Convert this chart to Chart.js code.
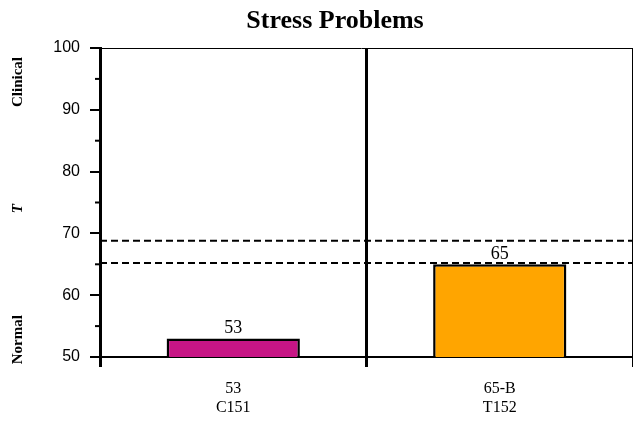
<!DOCTYPE html>
<html>
<head>
<meta charset="utf-8">
<script src="https://cdn.jsdelivr.net/npm/chart.js@4"></script>
<style>
  html, body { margin: 0; padding: 0; background: #fff; }
  #wrap { width: 633px; height: 422px; }
</style>
</head>
<body>
<div id="wrap"><canvas id="stress-chart"></canvas></div>
<script>
const chartTitle = "Stress Problems";
const categories = [["53", "C151"], ["65-B", "T152"]];
const scores = [53, 65];
const barColors = ["#C71585", "#FFA500"];
const valueLabels = ["53", "65"];
const cutoffLines = [68.8, 65.2];
const sideLabels = [
    { text: "Clinical", value: 94.5, italic: false },
    { text: "T", value: 74, italic: true },
    { text: "Normal", value: 52.8, italic: false }
];

const serif = "'Liberation Serif', 'Times New Roman', serif";

const extrasPlugin = {
    id: "extras",
    afterDatasetsDraw(chart) {
        const ctx = chart.ctx;
        const area = chart.chartArea;
        const y = chart.scales.y;
        const meta = chart.getDatasetMeta(0);
        ctx.save();

        // top border
        ctx.strokeStyle = "#000";
        ctx.lineWidth = 1;
        ctx.beginPath();
        ctx.moveTo(area.left - 10, area.top + 0.5);
        ctx.lineTo(area.right, area.top + 0.5);
        ctx.stroke();

        // minor ticks
        ctx.lineWidth = 2;
        for (let v = 55; v < 100; v += 10) {
            const py = y.getPixelForValue(v);
            ctx.beginPath();
            ctx.moveTo(area.left - 5, py);
            ctx.lineTo(area.left, py);
            ctx.stroke();
        }

        // dashed cutoff lines
        ctx.setLineDash([7, 4]);
        cutoffLines.forEach(v => {
            const py = y.getPixelForValue(v);
            ctx.beginPath();
            ctx.moveTo(area.left, py);
            ctx.lineTo(area.right, py);
            ctx.stroke();
        });
        ctx.setLineDash([]);

        // value labels above bars
        ctx.fillStyle = "#000";
        ctx.font = "18px " + serif;
        ctx.textAlign = "center";
        ctx.textBaseline = "bottom";
        meta.data.forEach((bar, i) => {
            ctx.fillText(valueLabels[i], bar.x, bar.y - 1);
        });

        // rotated side labels
        sideLabels.forEach(l => {
            const py = y.getPixelForValue(l.value);
            ctx.save();
            ctx.translate(18, py);
            ctx.rotate(-Math.PI / 2);
            ctx.font = (l.italic ? "italic " : "") + "bold 15px " + serif;
            ctx.textAlign = "center";
            ctx.textBaseline = "middle";
            ctx.fillText(l.text, 0, 0);
            ctx.restore();
        });

        // title
        ctx.font = "bold 26px " + serif;
        ctx.textAlign = "center";
        ctx.textBaseline = "middle";
        ctx.fillText(chartTitle, 335, 21);

        ctx.restore();
    }
};

new Chart(document.getElementById("stress-chart"), {
    type: "bar",
    data: {
        labels: categories,
        datasets: [{
            data: scores,
            backgroundColor: barColors,
            borderColor: "#000",
            borderWidth: 2.5,
            borderSkipped: false,
            barPercentage: 0.5,
            categoryPercentage: 1
        }]
    },
    options: {
        responsive: true,
        maintainAspectRatio: false,
        animation: false,
        layout: { padding: { top: 48, left: 0, right: 0, bottom: 0 } },
        plugins: {
            legend: { display: false },
            title: { display: false },
            tooltip: { enabled: false }
        },
        scales: {
            x: {
                offset: true,
                afterFit: s => { s.height = 65; },
                border: { display: true, color: "#000", width: 2 },
                grid: {
                    offset: true,
                    color: "#000",
                    lineWidth: c => (c.index === 2 ? 0 : 3),
                    tickLength: 10
                },
                ticks: {
                    color: "#000",
                    font: { family: serif, size: 16 },
                    padding: 12,
                    maxRotation: 0
                }
            },
            y: {
                min: 50,
                max: 100,
                afterFit: s => { s.width = 100; },
                border: { display: true, color: "#000", width: 3 },
                grid: {
                    drawOnChartArea: false,
                    color: "#000",
                    lineWidth: 2,
                    tickLength: 10
                },
                ticks: {
                    stepSize: 10,
                    color: "#000",
                    padding: 10,
                    font: { family: "'Liberation Sans', Arial, sans-serif", size: 16 }
                }
            }
        }
    },
    plugins: [extrasPlugin]
});
</script>
</body>
</html>
